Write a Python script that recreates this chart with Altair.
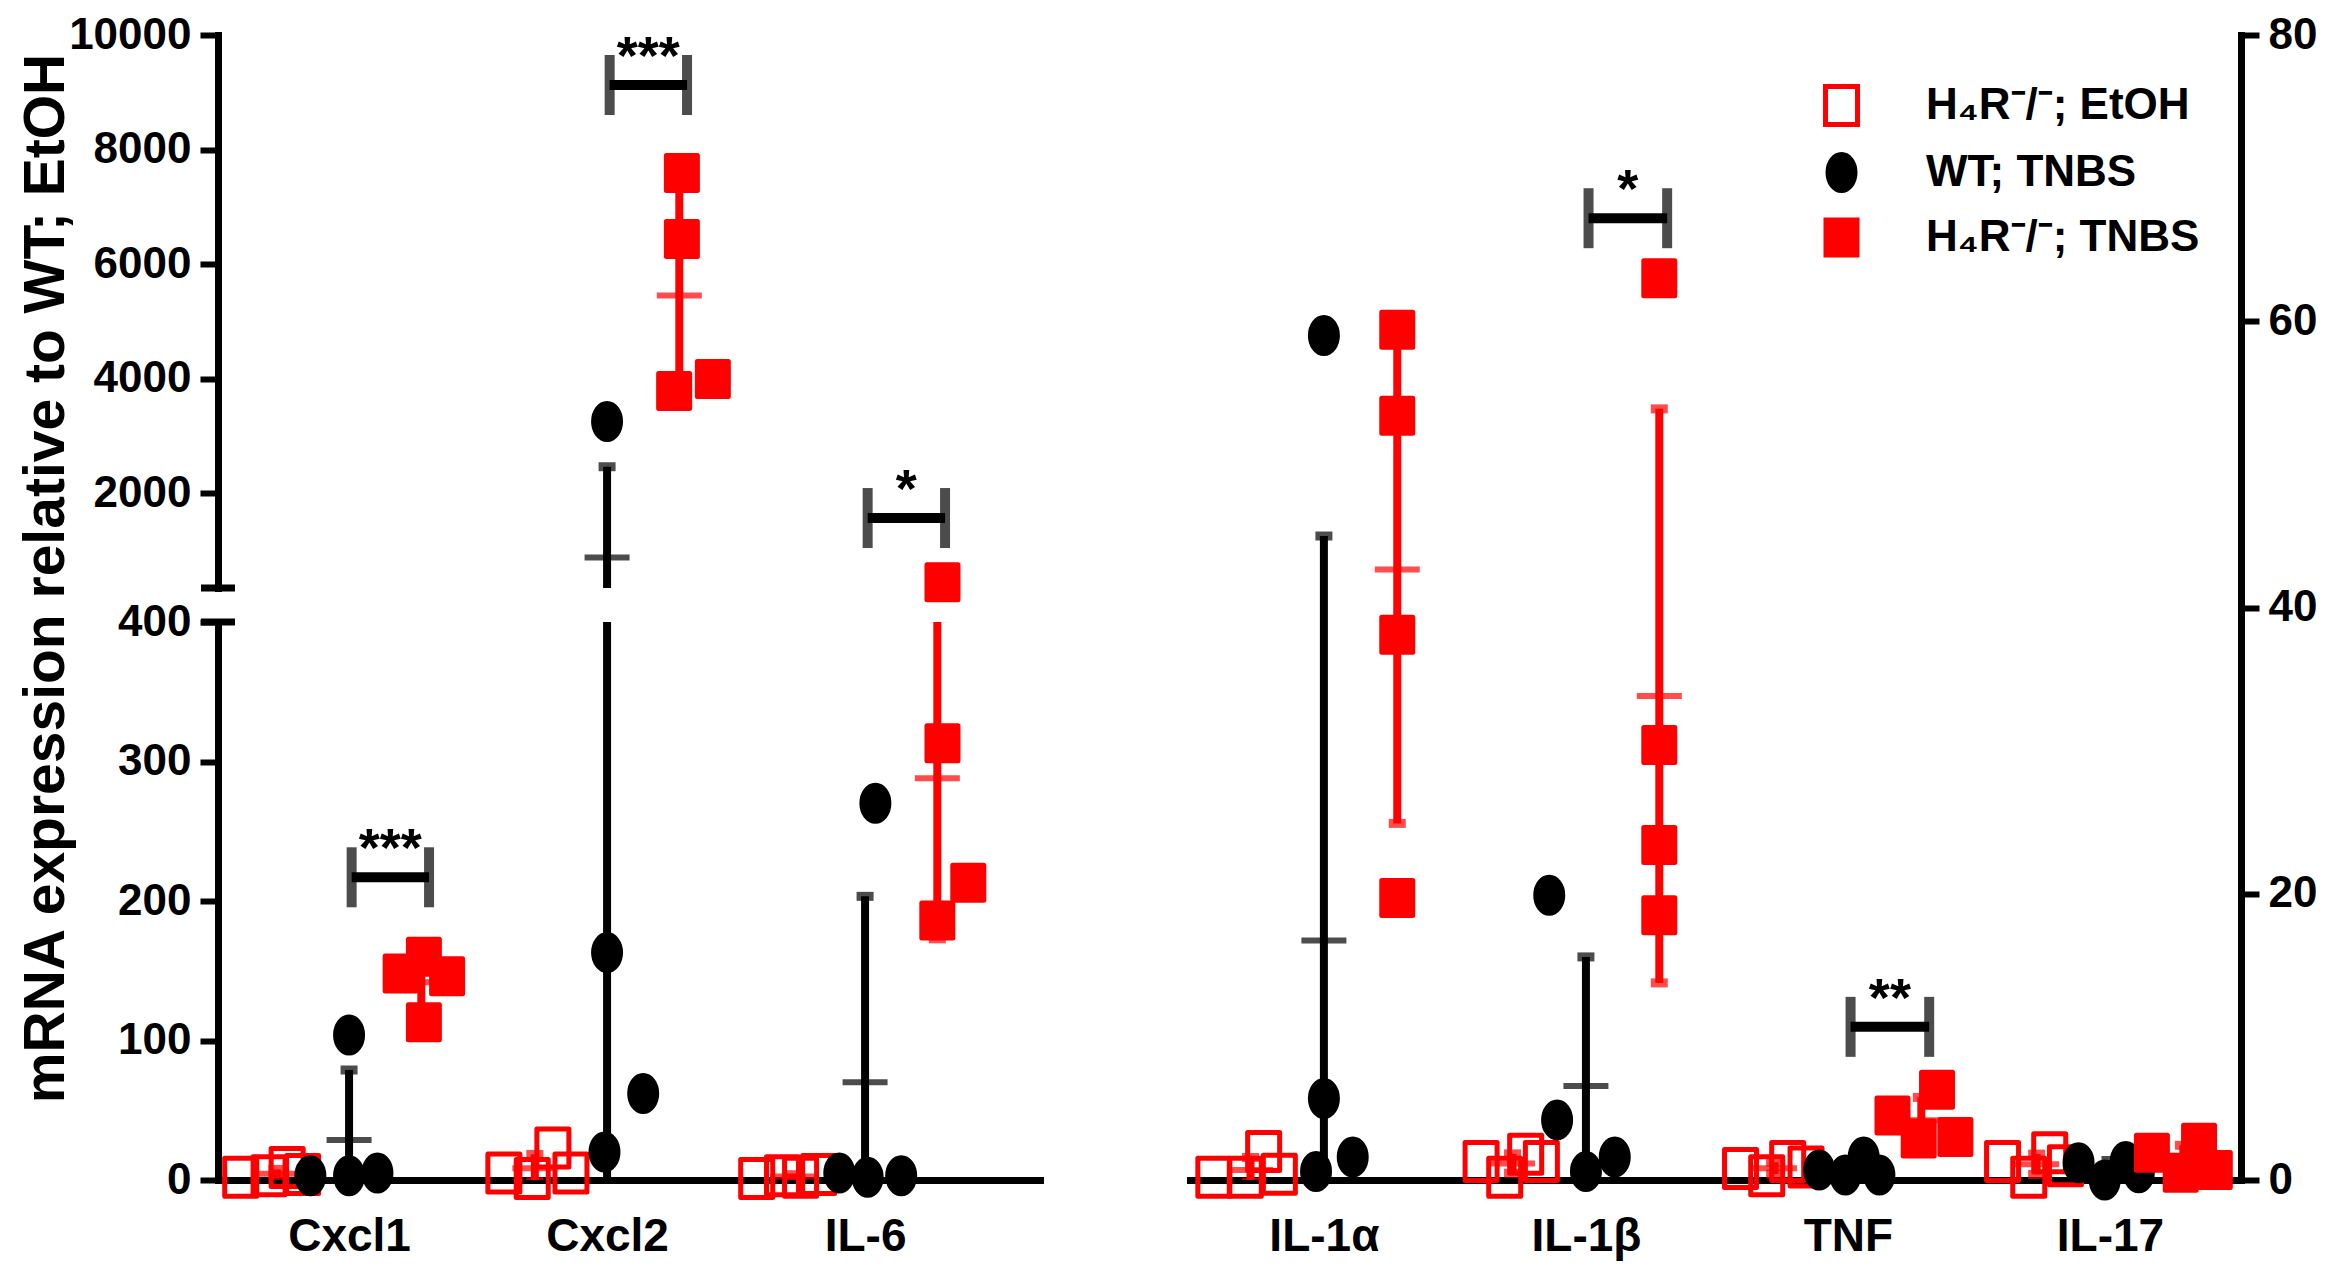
import json
import altair as alt
import pandas as pd

FONT = "Liberation Sans, Arial, Helvetica, sans-serif"

# ---------------- data ----------------
CATS_LEFT = ["Cxcl1", "Cxcl2", "IL-6"]
CATS_RIGHT = ["IL-1α", "IL-1β", "TNF", "IL-17"]
GROUPS = ["H₄R⁻/⁻; EtOH", "WT; TNBS", "H₄R⁻/⁻; TNBS"]

ETOH_VALUES = {
    "Cxcl1": [2, 3, 9, 4],
    "Cxcl2": [5, 1, 23, 5],
    "IL-6": [1, 3, 2, 4],
    "IL-1α": [0.2, 0.2, 2.0, 0.4],
    "IL-1β": [1.3, 0.2, 1.8, 1.3],
    "TNF": [0.8, 0.3, 1.3, 0.9],
    "IL-17": [1.3, 0.2, 1.9, 1.0],
}
WT_VALUES = {
    "Cxcl1": [104, 3, 3, 5],
    "Cxcl2": [3250, 163, 62, 20],
    "IL-6": [270, 5, 2, 3],
    "IL-1α": [59, 5.7, 0.6, 1.6],
    "IL-1β": [19.9, 4.2, 0.6, 1.6],
    "TNF": [0.7, 0.35, 1.6, 0.35],
    "IL-17": [1.2, 0.0, 1.3, 0.5],
}
TNBS_VALUES = {
    "Cxcl1": [148, 160, 113, 146],
    "Cxcl2": [7590, 6437, 3782, 3991],
    "IL-6": [440, 313, 186, 213],
    "IL-1α": [59.4, 53.4, 38.1, 19.7],
    "IL-1β": [63.0, 30.4, 23.4, 18.5],
    "TNF": [4.5, 6.3, 2.9, 3.0],
    "IL-17": [1.9, 0.5, 2.6, 0.7],
}
# horizontal scatter of each point around its cytokine (in category units)
ETOH_SPREAD = {
    "Cxcl1": [-0.42, -0.31, -0.24, -0.18],
    "Cxcl2": [-0.40, -0.29, -0.21, -0.14],
    "IL-6": [-0.42, -0.32, -0.25, -0.18],
    "IL-1α": [-0.42, -0.30, -0.23, -0.17],
    "IL-1β": [-0.40, -0.31, -0.23, -0.17],
    "TNF": [-0.41, -0.31, -0.23, -0.16],
    "IL-17": [-0.41, -0.31, -0.23, -0.17],
}
WT_SPREAD = {
    "Cxcl1": [0.0, -0.15, 0.0, 0.11],
    "Cxcl2": [0.0, 0.0, 0.14, -0.01],
    "IL-6": [0.04, -0.10, 0.01, 0.14],
    "IL-1α": [0.0, 0.0, -0.03, 0.11],
    "IL-1β": [-0.14, -0.11, 0.0, 0.11],
    "TNF": [-0.11, -0.01, 0.06, 0.12],
    "IL-17": [-0.12, -0.02, 0.06, 0.11],
}
TNBS_SPREAD = {
    "Cxcl1": [0.20, 0.29, 0.29, 0.38],
    "Cxcl2": [0.29, 0.29, 0.26, 0.41],
    "IL-6": [0.30, 0.30, 0.28, 0.40],
    "IL-1α": [0.28, 0.28, 0.28, 0.28],
    "IL-1β": [0.28, 0.28, 0.28, 0.28],
    "TNF": [0.17, 0.34, 0.27, 0.41],
    "IL-17": [0.16, 0.27, 0.34, 0.40],
}

SIG_CATS = ["Cxcl1", "Cxcl2", "IL-6", "IL-1β", "TNF"]
SIG_MARKS = ["***", "***", "*", "*", "**"]
SIG_LEVELS = [217, 9127, 1563, 67.2, 10.7]

Y_TITLE = "mRNA expression relative to WT; EtOH"
UPPER_TICKS = [2000, 4000, 6000, 8000, 10000]
LOWER_TICKS = [0, 100, 200, 300, 400]
RIGHT_TICKS = [0, 20, 40, 60, 80]

# ---------------- styling / layout ----------------
GROUP_CENTER = [-0.28, 0.0, 0.28]
GROUP_STROKE = ["red", "black", "red"]
GROUP_FILL = ["transparent", "black", "red"]
GROUP_SHAPE = [
    "M-0.8,-0.95H0.8V0.95H-0.8Z",
    "M-0.675,0A0.675,0.9,0,1,0,0.675,0A0.675,0.9,0,1,0,-0.675,0Z",
    "M-0.775,-0.875H0.775V0.875H-0.775Z",
]
BRACKET_FROM, BRACKET_TO = 0.01, 0.31

rows = []
for gi, (vals, spread) in enumerate(
    [(ETOH_VALUES, ETOH_SPREAD), (WT_VALUES, WT_SPREAD), (TNBS_VALUES, TNBS_SPREAD)]
):
    for cat in CATS_LEFT + CATS_RIGHT:
        panel = "L" if cat in CATS_LEFT else "R"
        idx = (CATS_LEFT if panel == "L" else CATS_RIGHT).index(cat)
        for v, s in zip(vals[cat], spread[cat]):
            rows.append(dict(panel=panel, cat=cat, grp=GROUPS[gi], v=v, x=idx + s,
                             xc=idx + GROUP_CENTER[gi], col=GROUP_STROKE[gi]))
df = pd.DataFrame(rows)

sig_rows = []
for cat, mark, lev in zip(SIG_CATS, SIG_MARKS, SIG_LEVELS):
    panel = "L" if cat in CATS_LEFT else "R"
    idx = (CATS_LEFT if panel == "L" else CATS_RIGHT).index(cat)
    sig_rows.append(dict(panel=panel, cat=cat, label=mark, level=lev,
                         x1=idx + BRACKET_FROM, x2=idx + BRACKET_TO,
                         xm=idx + (BRACKET_FROM + BRACKET_TO) / 2))
sig = pd.DataFrame(sig_rows)

XS_L = alt.Scale(domain=[-0.508, 2.678], nice=False, zero=False)
XS_R = alt.Scale(domain=[-0.511, 3.5], nice=False, zero=False)
YS_U = alt.Scale(domain=[341, 10000], nice=False, zero=False)
YS_D = alt.Scale(domain=[0, 400], nice=False, zero=False)
YS_R = alt.Scale(domain=[0, 80], nice=False, zero=False)

W_L, W_R = 822, 1051
H_U, H_D, H_R = 553, 558, 1145

legend = alt.Legend(title=None, orient="none", legendX=629, legendY=48,
                    symbolSize=1600, symbolStrokeWidth=5, rowPadding=9,
                    labelOffset=62, labelFontSize=44, labelLimit=2000)


def layers(d, s, xs, ys, xaxis, yaxis, show_legend, clip_pts_expr=None):
    X = lambda f: alt.X(f, scale=xs, axis=xaxis)
    Y = lambda f: alt.Y(f, scale=ys, axis=yaxis)
    leg = legend if show_legend else None
    base = (alt.Chart(d)
            .transform_aggregate(m="mean(v)", sd="stdev(v)", groupby=["cat", "grp", "xc", "col"])
            .transform_calculate(lo="datum.m - datum.sd", hi="datum.m + datum.sd"))
    rule = base.mark_rule(strokeWidth=8, clip=True).encode(
        x=X("xc:Q"), y=Y("lo:Q"), y2="hi:Q", stroke=alt.Stroke("col:N", scale=None))
    mean = base.mark_tick(orient="horizontal", size=45, thickness=6, clip=True).encode(
        x=X("xc:Q"), y=Y("m:Q"), color=alt.Color("col:N", scale=None))
    cap_hi = base.mark_tick(orient="horizontal", size=17, thickness=9, clip=True).encode(
        x=X("xc:Q"), y=Y("hi:Q"), color=alt.Color("col:N", scale=None))
    cap_lo = base.mark_tick(orient="horizontal", size=17, thickness=9, clip=True).encode(
        x=X("xc:Q"), y=Y("lo:Q"), color=alt.Color("col:N", scale=None))
    pd_ = alt.Chart(d)
    if clip_pts_expr:
        pd_ = pd_.transform_filter(clip_pts_expr)
    pts = pd_.mark_point(size=1600, strokeWidth=5, opacity=1, strokeJoin="round").encode(
        x=X("x:Q"), y=Y("v:Q"),
        shape=alt.Shape("grp:N", scale=alt.Scale(domain=GROUPS, range=GROUP_SHAPE), legend=leg),
        fill=alt.Fill("grp:N", scale=alt.Scale(domain=GROUPS, range=GROUP_FILL), legend=leg),
        stroke=alt.Stroke("grp:N", scale=alt.Scale(domain=GROUPS, range=GROUP_STROKE), legend=leg),
    )
    out = [rule, mean, cap_hi, cap_lo, pts]
    if len(s):
        sb = alt.Chart(s)
        out.append(sb.mark_rule(strokeWidth=10, color="black").encode(
            x=X("x1:Q"), x2="x2:Q", y=Y("level:Q")))
        out.append(sb.mark_tick(orient="vertical", size=60, thickness=10, color="black").encode(
            x=X("x1:Q"), y=Y("level:Q")))
        out.append(sb.mark_tick(orient="vertical", size=60, thickness=10, color="black").encode(
            x=X("x2:Q"), y=Y("level:Q")))
        out.append(sb.mark_text(font=FONT, fontSize=54, fontWeight="bold", baseline="alphabetic",
                                dy=-11, color="black").encode(
            x=X("xm:Q"), y=Y("level:Q"), text="label:N"))
    return out


def cat_axis(cats):
    return alt.Axis(values=list(range(len(cats))),
                    labelExpr=json.dumps(cats, ensure_ascii=False) + "[datum.value]",
                    ticks=False, title=None, labelPadding=34, labelFontSize=46,
                    labelAngle=0, domainWidth=7)


dfl = df[df.panel == "L"]
dfr = df[df.panel == "R"]
sig_l = sig[sig.panel == "L"]
sig_r = sig[sig.panel == "R"]

brk = pd.DataFrame({"b": [0]})

upper = alt.layer(
    *layers(dfl, sig_l[sig_l.level > 400], XS_L, YS_U, None,
            alt.Axis(values=UPPER_TICKS, format="d", title=None), False, "datum.v > 400"),
    alt.Chart(brk).mark_rule(strokeWidth=7, color="black").encode(
        x=alt.value(-17), x2=alt.value(17), y=alt.value(H_U)),
).properties(width=W_L, height=H_U)

lower = alt.layer(
    *layers(dfl, sig_l[sig_l.level <= 400], XS_L, YS_D, cat_axis(CATS_LEFT),
            alt.Axis(values=LOWER_TICKS, format="d", title=Y_TITLE, titleFontSize=57,
                     titleX=-155, titleY=-44, titleAngle=270, titleBaseline="alphabetic",
                     titleAlign="center"),
            False, "datum.v <= 400"),
    alt.Chart(brk).mark_rule(strokeWidth=7, color="black").encode(
        x=alt.value(-17), x2=alt.value(17), y=alt.value(0)),
).properties(width=W_L, height=H_D)

right = alt.layer(
    *layers(dfr, sig_r, XS_R, YS_R, cat_axis(CATS_RIGHT),
            alt.Axis(values=RIGHT_TICKS, format="d", title=None, orient="right"), True),
).properties(width=W_R, height=H_R)

ind = dict(shape="independent", fill="independent", stroke="independent")

left = alt.vconcat(upper, lower, spacing=34, bounds="flush").resolve_scale(**ind).resolve_legend(**ind)

chart = (
    alt.hconcat(left, right, spacing=150)
    .resolve_scale(**ind).resolve_legend(**ind)
    .properties(padding={"left": 8, "top": 5, "right": 5, "bottom": 5})
    .configure(font=FONT, background="white")
    .configure_view(stroke=None)
    .configure_axis(labelFont=FONT, labelFontWeight="bold", labelColor="black",
                    titleFont=FONT, titleFontWeight="bold", titleColor="black",
                    domainColor="black", tickColor="black", domainWidth=7, tickWidth=6,
                    tickSize=18, labelPadding=9, labelFontSize=44, grid=False,
                    labelFlush=False, labelOverlap=False, domainCap="square")
    .configure_legend(labelFont=FONT, labelFontWeight="bold", labelColor="black")
)

chart.save("out.html", embed_options={"renderer": "svg", "actions": False})
